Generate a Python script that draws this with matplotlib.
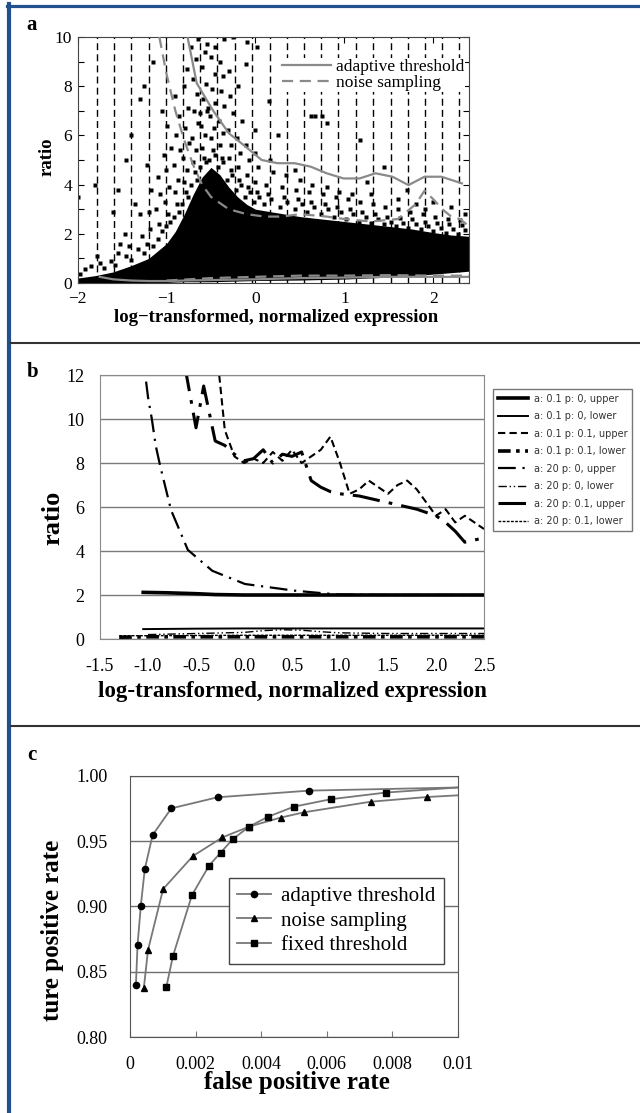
import matplotlib
matplotlib.use('Agg')
import matplotlib.pyplot as plt
from matplotlib.lines import Line2D

W, H = 640, 1113
SERIF = 'Liberation Serif'

# ---------------- Panel a data ----------------
a_xticks = [-2, -1, 0, 1, 2]
a_xticklabels = ['\u22122', '\u22121', '0', '1', '2']
a_bin_edges = [-1.78, -1.59, -1.40, -1.20, -1.01, -0.81, -0.62, -0.43, -0.23,
               -0.04, 0.16, 0.35, 0.55, 0.74, 0.93, 1.13, 1.32, 1.52, 1.71,
               1.90, 2.10, 2.29]
# dense black core of the scatter cloud
a_core_x = [-2.0, -1.8, -1.6, -1.4, -1.2, -1.1, -1.0, -0.9, -0.8, -0.7, -0.6,
            -0.5, -0.4, -0.3, -0.2, -0.1, 0.0, 0.25, 0.5, 0.75, 1.0, 1.25,
            1.5, 1.75, 2.0, 2.2, 2.4]
a_core_top = [0.2, 0.3, 0.45, 0.7, 1.0, 1.3, 1.6, 2.1, 2.8, 3.6, 4.3,
              4.7, 4.4, 3.9, 3.5, 3.2, 3.0, 2.85, 2.7, 2.6, 2.5, 2.4,
              2.3, 2.2, 2.05, 1.95, 1.9]
a_core_bot = [0.0, 0.0, 0.0, 0.0, 0.0, 0.0, 0.02, 0.04, 0.05, 0.05, 0.05,
              0.05, 0.06, 0.07, 0.08, 0.09, 0.1, 0.11, 0.12, 0.14, 0.16, 0.2,
              0.24, 0.3, 0.36, 0.42, 0.48]
# scattered points (halo around the core and outliers)
a_dots_x = [
    -1.92, -1.85, -1.97, -1.75, -1.70, -1.78, -1.62, -1.55, -1.58, -1.52,
    -1.45, -1.42, -1.47, -1.40, -1.32, -1.28, -1.30, -1.25, -1.35,
    -1.22, -1.18, -1.20, -1.15, -1.17, -1.22,
    -1.10, -1.08, -1.12, -1.05, -1.07, -1.10, -1.03,
    -1.00, -0.98, -1.02, -0.96, -0.97, -1.00, -0.95, -0.99,
    -0.92, -0.88, -0.90, -0.86, -0.87, -0.91, -0.85, -0.89, -0.86, -0.90,
    -0.82, -0.78, -0.80, -0.76, -0.77, -0.81, -0.75, -0.79, -0.76, -0.80, -0.77,
    -0.72, -0.68, -0.70, -0.66, -0.67, -0.71, -0.65, -0.69, -0.66, -0.70, -0.67, -0.72,
    -0.62, -0.58, -0.60, -0.56, -0.57, -0.61, -0.55, -0.59, -0.56, -0.60, -0.57, -0.62,
    -0.52, -0.48, -0.50, -0.46, -0.47, -0.51, -0.45, -0.49, -0.46, -0.50, -0.53,
    -0.42, -0.38, -0.40, -0.36, -0.37, -0.41, -0.35, -0.39, -0.36,
    -0.32, -0.28, -0.30, -0.26, -0.27, -0.31, -0.25, -0.29,
    -0.22, -0.18, -0.20, -0.16, -0.17, -0.21, -0.15,
    -0.12, -0.08, -0.10, -0.06, -0.07, -0.11,
    -0.02, 0.02, 0.00, 0.04, 0.03, -0.01,
    0.10, 0.14, 0.12, 0.18, 0.20, 0.16,
    0.28, 0.32, 0.30, 0.36, 0.34,
    0.44, 0.48, 0.46, 0.52, 0.50,
    0.58, 0.62, 0.60, 0.66, 0.64,
    0.74, 0.78, 0.76, 0.82, 0.80,
    0.88, 0.92, 0.90, 0.96, 0.94,
    1.02, 1.06, 1.04, 1.10, 1.08,
    1.16, 1.20, 1.18, 1.24,
    1.30, 1.34, 1.32, 1.38,
    1.44, 1.48, 1.46, 1.52,
    1.58, 1.62, 1.60, 1.66,
    1.72, 1.76, 1.74, 1.80,
    1.86, 1.90, 1.88, 1.94,
    2.00, 2.04, 2.02, 2.08,
    2.14, 2.18, 2.16, 2.22,
    2.28, 2.32, 2.30, 2.36,
    # outliers
    -0.65, -0.55, -0.45, -0.35, -0.25, -0.10, 0.02, -0.40, -0.30, -0.11,
    -0.20, -1.15, -1.25, -1.30, -1.05, -1.80, -1.55, -1.60, -1.45, -1.40,
    -2.00, 0.25, 0.62, 0.67, 0.75, 0.80, 1.17, 1.44, 0.15, 0.00,
    1.30, 1.60, 1.80, 2.00, 2.20, 1.70, 0.45, 1.25, 1.90, 2.35]
a_dots_y = [
    0.55, 0.70, 0.35, 0.80, 0.60, 1.10, 0.90, 1.20, 0.75, 1.60,
    1.10, 1.50, 2.00, 0.95, 1.40, 1.90, 2.80, 1.20, 3.20,
    1.60, 2.20, 2.90, 1.50, 3.80, 4.80,
    1.80, 2.40, 3.00, 2.10, 3.60, 4.30, 5.20,
    2.30, 2.80, 3.30, 2.50, 3.90, 4.60, 5.50, 6.40,
    2.70, 3.20, 3.70, 2.90, 4.20, 4.80, 5.40, 6.00, 6.80, 7.60,
    3.20, 3.70, 4.10, 3.50, 4.60, 5.10, 5.70, 6.30, 7.10, 8.00, 8.70,
    4.00, 4.50, 4.90, 4.20, 5.40, 5.90, 6.50, 7.00, 7.70, 8.30, 9.10, 9.60,
    4.70, 5.10, 5.50, 4.90, 6.00, 6.40, 7.00, 7.50, 8.10, 8.80, 9.40, 6.90,
    5.00, 5.40, 5.90, 5.20, 6.30, 6.80, 7.30, 7.90, 8.50, 9.20, 7.10,
    4.70, 5.10, 5.60, 4.90, 6.10, 6.60, 7.20, 7.80, 8.40,
    4.20, 4.60, 5.10, 4.40, 5.60, 6.20, 6.90, 7.60,
    3.80, 4.20, 4.70, 4.00, 5.30, 5.90, 6.60,
    3.50, 3.90, 4.40, 3.70, 5.00, 5.60,
    3.30, 3.70, 4.10, 3.50, 4.70, 5.30,
    3.20, 3.60, 4.00, 3.40, 4.50, 5.00,
    3.10, 3.50, 3.90, 3.30, 4.40,
    3.00, 3.40, 3.80, 3.20, 4.20,
    2.90, 3.30, 3.70, 3.10, 4.00,
    2.80, 3.20, 3.60, 3.00, 3.90,
    2.70, 3.10, 3.50, 2.90, 3.70,
    2.60, 3.00, 3.40, 2.80, 3.60,
    2.50, 2.90, 3.30, 2.70,
    2.45, 2.80, 3.20, 2.60,
    2.40, 2.70, 3.10, 2.50,
    2.30, 2.65, 3.00, 2.45,
    2.25, 2.60, 2.90, 2.40,
    2.20, 2.50, 2.80, 2.30,
    2.10, 2.45, 2.70, 2.25,
    2.05, 2.40, 2.60, 2.20,
    2.00, 2.35, 2.55, 2.15,
    # outliers
    9.9, 9.7, 9.6, 9.9, 10.0, 9.8, 9.6, 9.0, 8.6, 8.9,
    8.0, 9.0, 8.0, 7.5, 7.0, 4.0, 3.8, 2.9, 5.0, 6.0,
    3.5, 6.0, 6.8, 6.8, 6.8, 6.5, 5.8, 4.7, 7.4, 6.2,
    3.6, 3.4, 3.2, 3.3, 3.1, 3.8, 4.6, 4.1, 3.0, 2.8]
# threshold curves
a_adapt_up_x = [-0.76, -0.66, -0.48, -0.30, -0.11, 0.07, 0.25, 0.44, 0.62,
                0.80, 0.99, 1.17, 1.35, 1.54, 1.72, 1.90, 2.09, 2.32]
a_adapt_up_y = [9.94, 8.12, 7.03, 6.09, 5.54, 5.0, 4.87, 4.87, 4.73,
                4.46, 4.25, 4.25, 4.46, 4.32, 3.98, 4.32, 4.32, 4.05]
a_noise_up_x = [-1.08, -1.0, -0.9, -0.8, -0.7, -0.6, -0.5, -0.3, -0.1, 0.1,
                0.3, 0.5, 0.8, 1.0, 1.3, 1.6, 1.8, 1.9, 2.0, 2.1, 2.2, 2.3, 2.4]
a_noise_up_y = [10.0, 8.5, 7.0, 5.8, 4.8, 4.0, 3.5, 3.0, 2.8, 2.7,
                2.7, 2.8, 2.7, 2.6, 2.5, 2.6, 3.2, 3.75, 3.4, 3.0, 2.7, 2.6, 2.3]
a_adapt_lo_x = [-1.75, -1.6, -1.4, -1.2, -1.0, -0.8, -0.5, 0.0, 0.5, 1.0, 1.5, 2.0, 2.4]
a_adapt_lo_y = [0.25, 0.15, 0.1, 0.08, 0.08, 0.1, 0.12, 0.15, 0.2, 0.22, 0.25, 0.25, 0.25]
a_noise_lo_x = [-1.0, -0.5, 0.0, 0.5, 1.0, 1.5, 2.0, 2.4]
a_noise_lo_y = [0.1, 0.2, 0.25, 0.3, 0.3, 0.32, 0.3, 0.3]

# ---------------- Panel b data ----------------
b_xticks = [-1.5, -1.0, -0.5, 0.0, 0.5, 1.0, 1.5, 2.0, 2.5]
b_yticks = [0, 2, 4, 6, 8, 10, 12]
b_labels = ['a: 0.1 p: 0, upper', 'a: 0.1 p: 0, lower', 'a: 0.1 p: 0.1, upper',
            'a: 0.1 p: 0.1, lower', 'a: 20 p: 0, upper', 'a: 20 p: 0, lower',
            'a: 20 p: 0.1, upper', 'a: 20 p: 0.1, lower']
b1_x = [-1.05, -0.8, -0.5, -0.3, 0.0, 0.5, 1.0, 1.5, 2.0, 2.5]
b1_y = [2.12, 2.1, 2.06, 2.02, 2.0, 2.0, 2.0, 2.0, 2.0, 2.0]
b2_x = [-1.05, -0.5, 0.0, 0.5, 1.0, 1.5, 2.0, 2.5]
b2_y = [0.45, 0.47, 0.48, 0.48, 0.48, 0.48, 0.48, 0.48]
b3_x = [-0.27, -0.2, -0.1, 0.0, 0.1, 0.2, 0.3, 0.4, 0.5, 0.6, 0.7, 0.8, 0.9,
        1.0, 1.1, 1.2, 1.3, 1.4, 1.5, 1.6, 1.7, 1.8, 1.9, 2.0, 2.1, 2.2, 2.3, 2.4, 2.5]
b3_y = [12.5, 9.5, 8.3, 8.0, 8.2, 8.0, 8.5, 8.1, 8.6, 8.0, 8.3, 8.6, 9.2,
        8.0, 6.6, 6.8, 7.2, 6.9, 6.6, 7.0, 7.2, 6.8, 6.2, 5.6, 5.9, 5.3, 5.6, 5.3, 5.0]
b4_x = [-1.3, -1.0, -0.5, 0.0, 0.5, 1.0, 1.5, 2.0, 2.5]
b4_y = [0.08, 0.1, 0.1, 0.1, 0.1, 0.1, 0.1, 0.1, 0.1]
b5_x = [-1.02, -1.0, -0.96, -0.92, -0.875, -0.76, -0.585, -0.33, 0.01, 0.35,
        0.52, 0.77, 1.0, 1.5, 2.0, 2.5]
b5_y = [11.7, 11.0, 10.0, 8.8, 7.9, 5.86, 4.05, 3.1, 2.5, 2.3,
        2.2, 2.1, 2.02, 2.0, 2.0, 2.0]
b6_x = [-1.0, -0.5, 0.0, 0.2, 0.4, 0.6, 0.8, 1.0, 1.5, 2.0, 2.5]
b6_y = [0.2, 0.25, 0.3, 0.38, 0.42, 0.4, 0.33, 0.28, 0.25, 0.25, 0.25]
b7_x = [-0.62, -0.5, -0.42, -0.3, -0.2, -0.1, 0.0, 0.1, 0.2, 0.3, 0.4, 0.5,
        0.6, 0.7, 0.8, 0.9, 1.0, 1.2, 1.4, 1.6, 1.8, 2.0, 2.1, 2.2, 2.3, 2.5]
b7_y = [12.5, 9.6, 11.5, 9.0, 8.8, 8.4, 8.1, 8.2, 8.6, 8.0, 8.4, 8.3,
        8.5, 7.2, 6.9, 6.7, 6.6, 6.5, 6.3, 6.1, 5.9, 5.6, 5.3, 4.9, 4.4, 4.6]
b8_x = [-1.3, -1.0, -0.5, 0.0, 0.5, 1.0, 1.5, 2.0, 2.5]
b8_y = [0.15, 0.15, 0.16, 0.17, 0.17, 0.17, 0.17, 0.17, 0.17]

# ---------------- Panel c data ----------------
c_xticks = [0, 0.002, 0.004, 0.006, 0.008, 0.01]
c_xticklabels = ['0', '0.002', '0.004', '0.006', '0.008', '0.01']
c_yticks = [0.80, 0.85, 0.90, 0.95, 1.00]
c_adapt_x = [0.00018, 0.00023, 0.00033, 0.00045, 0.00069, 0.00126, 0.00267, 0.00547]
c_adapt_y = [0.840, 0.8705, 0.9006, 0.9285, 0.9548, 0.9752, 0.9837, 0.9888]
c_adapt_end = (0.01, 0.9912)
c_noise_x = [0.00042, 0.00055, 0.00101, 0.00192, 0.00282, 0.00363, 0.00459,
             0.00531, 0.00734, 0.00906]
c_noise_y = [0.8373, 0.8667, 0.9134, 0.9387, 0.9530, 0.9612, 0.9681,
             0.9722, 0.9803, 0.9839]
c_noise_end = (0.01, 0.9852)
c_fixed_x = [0.00111, 0.00131, 0.00189, 0.00241, 0.00276, 0.00313, 0.00363,
             0.00421, 0.00500, 0.00612, 0.00780]
c_fixed_y = [0.8386, 0.8621, 0.9088, 0.9313, 0.9412, 0.9515, 0.9612,
             0.9688, 0.9765, 0.9822, 0.9873]
c_fixed_end = (0.01, 0.9912)

# ---------------- Figure ----------------
fig = plt.figure(figsize=(W / 100, H / 100), dpi=100)


def box(x0, y0, x1, y1):
    return [x0 / W, 1 - y1 / H, (x1 - x0) / W, (y1 - y0) / H]


def fx(px):
    return px / W


def fy(py):
    return 1 - py / H


BLUE = '#22508f'
fig.add_artist(Line2D([fx(7), 1], [fy(5.5), fy(5.5)], color=BLUE, lw=2.3))
fig.add_artist(Line2D([fx(9), fx(9)], [fy(4), 0], color=BLUE, lw=3.0))
for yy in (343, 726):
    fig.add_artist(Line2D([fx(11), 1], [fy(yy), fy(yy)], color='#333333', lw=1.5))

for lab, (px, py) in zip('abc', [(32, 25), (33, 372), (32, 755)]):
    fig.text(fx(px), fy(py), lab, family=SERIF, weight='bold', fontsize=15,
             ha='center', va='center')

# ---- panel a ----
axa = fig.add_axes(box(77.5, 37, 469, 283))
axa.fill_between(a_core_x, a_core_bot, a_core_top, color='black', lw=0, zorder=1)
axa.plot(a_dots_x, a_dots_y, 's', ms=2.8, color='black', mec='none', zorder=2)
for e in a_bin_edges:
    axa.axvline(e, color='black', ls=(0, (5, 3)), lw=1.0, zorder=1.5)
GRAY = '#8a8a8a'
la, = axa.plot(a_adapt_up_x, a_adapt_up_y, color=GRAY, lw=1.6, zorder=3)
axa.plot(a_adapt_lo_x, a_adapt_lo_y, color=GRAY, lw=1.6, zorder=3)
ln, = axa.plot(a_noise_up_x, a_noise_up_y, color=GRAY, lw=1.6, ls=(0, (5, 3)), zorder=3)
axa.plot(a_noise_lo_x, a_noise_lo_y, color=GRAY, lw=1.6, ls=(0, (5, 3)), zorder=3)
axa.set_xlim(-2, 2.4)
axa.set_ylim(0, 10)
axa.set_xticks(a_xticks)
axa.set_xticklabels(a_xticklabels)
axa.set_yticks(range(0, 11))
axa.set_yticklabels([str(v) if v % 2 == 0 else '' for v in range(0, 11)])
axa.tick_params(direction='in', top=True, right=True, length=4, width=0.8,
                labelsize=12.5, pad=4)
axa.tick_params(axis='x', pad=5.5)
for t in axa.get_xticklabels() + axa.get_yticklabels():
    t.set_family(SERIF)
for s in axa.spines.values():
    s.set_color('#444444')
leg = axa.legend([la, ln], ['adaptive threshold', 'noise sampling'],
                 loc='upper right', bbox_to_anchor=(0.99, 0.915), frameon=True,
                 fancybox=False, edgecolor='none', facecolor='white', framealpha=1,
                 prop={'family': SERIF, 'size': 12.5}, handlelength=2.8,
                 handletextpad=0.3, labelspacing=0.0, borderpad=0.05,
                 borderaxespad=0)
leg.set_zorder(5)
fig.text(fx(276), fy(318), 'log\u2212transformed, normalized expression',
         family=SERIF, weight='bold', fontsize=13.5, ha='center', va='center')
fig.text(fx(47), fy(157), 'ratio', family=SERIF, weight='bold', fontsize=13.5,
         ha='center', va='center', rotation=90)

# ---- panel b ----
axb = fig.add_axes(box(100, 375, 484, 639))
hb = []
hb += axb.plot(b1_x, b1_y, color='black', lw=2.6)
hb += axb.plot(b2_x, b2_y, color='black', lw=1.4)
hb += axb.plot(b3_x, b3_y, color='black', lw=1.5, ls=(0, (3.5, 2)))
hb += axb.plot(b4_x, b4_y, color='black', lw=2.6, ls=(0, (3.5, 1.5, 1, 1.5)))
hb += axb.plot(b5_x, b5_y, color='black', lw=1.6, ls=(0, (8, 3, 1, 3)))
hb += axb.plot(b6_x, b6_y, color='black', lw=1.0, ls=(0, (6, 2, 1, 2, 1, 2)))
hb += axb.plot(b7_x, b7_y, color='black', lw=2.2, ls=(0, (9, 3, 1.2, 3)))
hb += axb.plot(b8_x, b8_y, color='black', lw=1.0, ls=(0, (2, 1)))
axb.set_xlim(-1.5, 2.5)
axb.set_ylim(0, 12)
axb.set_xticks(b_xticks)
axb.set_xticklabels(['%.1f' % v for v in b_xticks])
axb.set_yticks(b_yticks)
axb.set_yticklabels([str(v) for v in b_yticks])
axb.yaxis.grid(True, color='#7a7a7a', lw=1.0)
axb.set_axisbelow(True)
axb.tick_params(length=0, labelsize=13, pad=11)
axb.tick_params(axis='x', pad=14)
for t in axb.get_xticklabels() + axb.get_yticklabels():
    t.set_family(SERIF)
for s in axb.spines.values():
    s.set_color('#8a8a8a')
fig.legend(hb, b_labels, loc='upper left', bbox_to_anchor=(fx(488), fy(384)),
           frameon=True, fancybox=False, edgecolor='#777777', framealpha=1,
           prop={'family': 'DejaVu Sans', 'size': 7}, handlelength=3.1,
           handletextpad=0.6, labelspacing=0.77, borderpad=0.5, labelcolor='#333333')
fig.text(fx(292), fy(692), 'log-transformed, normalized expression',
         family=SERIF, weight='bold', fontsize=16.5, ha='center', va='center')
fig.text(fx(53), fy(518), 'ratio', family=SERIF, weight='bold', fontsize=19,
         ha='center', va='center', rotation=90)

# ---- panel c ----
axc = fig.add_axes(box(130, 776, 458, 1037))
LG = '#777777'
ha_, = axc.plot(c_adapt_x + [c_adapt_end[0]], c_adapt_y + [c_adapt_end[1]],
                color=LG, lw=1.3)
axc.plot(c_adapt_x, c_adapt_y, 'o', color='black', ms=4.5, zorder=3)
hn_, = axc.plot(c_noise_x + [c_noise_end[0]], c_noise_y + [c_noise_end[1]],
                color=LG, lw=1.3)
axc.plot(c_noise_x, c_noise_y, '^', color='black', ms=4.5, zorder=3)
hf_, = axc.plot(c_fixed_x + [c_fixed_end[0]], c_fixed_y + [c_fixed_end[1]],
                color=LG, lw=1.3)
axc.plot(c_fixed_x, c_fixed_y, 's', color='black', ms=4.5, zorder=3)
axc.set_xlim(0, 0.01)
axc.set_ylim(0.8, 1.0)
axc.set_xticks(c_xticks)
axc.set_xticklabels(c_xticklabels)
axc.set_yticks(c_yticks)
axc.set_yticklabels(['%.2f' % v for v in c_yticks])
axc.yaxis.grid(True, color='#6e6e6e', lw=1.0)
axc.set_axisbelow(True)
axc.tick_params(axis='y', length=0, labelsize=13, pad=16)
axc.tick_params(axis='x', direction='in', length=4, labelsize=13, pad=14, color='#777777')
for t in axc.get_xticklabels() + axc.get_yticklabels():
    t.set_family(SERIF)
for s in axc.spines.values():
    s.set_color('#555555')
hl = [Line2D([], [], color=LG, lw=1.3, marker=m, mfc='black', mec='black', ms=4.5)
      for m in ['o', '^', 's']]
axc.legend(hl, ['adaptive threshold', 'noise sampling', 'fixed threshold'],
           loc='upper left', bbox_to_anchor=((229 - 130) / 328, (1037 - 878) / 261),
           frameon=True, fancybox=False, edgecolor='#444444', framealpha=1,
           prop={'family': SERIF, 'size': 15}, handlelength=1.6, handletextpad=0.5,
           labelspacing=0.25, borderpad=0.4, borderaxespad=0)
fig.text(fx(297), fy(1083), 'false positive rate', family=SERIF, weight='bold',
         fontsize=18, ha='center', va='center')
fig.text(fx(53), fy(930), 'ture positive rate', family=SERIF, weight='bold',
         fontsize=18, ha='center', va='center', rotation=90)

fig.savefig('out.png', dpi=100, facecolor='white')
